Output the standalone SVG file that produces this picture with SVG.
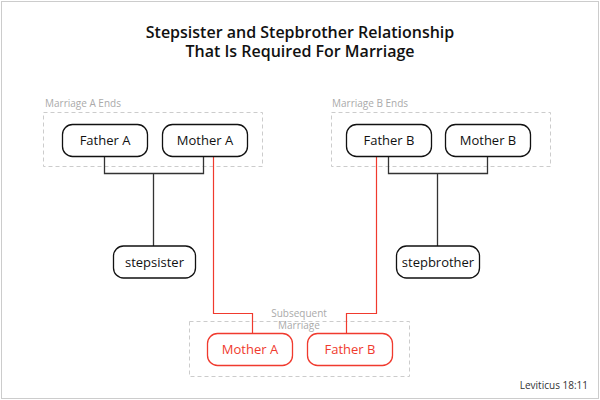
<svg xmlns="http://www.w3.org/2000/svg" width="600" height="400" viewBox="0 0 600 400">
<style>
text{font-family:"Open Sans","Noto Sans","Liberation Sans",sans-serif}
.title{font-size:16px;font-weight:600;fill:#111;text-anchor:middle}
.grp{fill:none;stroke:#ccc;stroke-width:1;stroke-dasharray:4,3}
.glab{font-size:10px;fill:#aaa}
.node rect{fill:#fff;stroke:#111;stroke-width:1.3}
.node text{font-size:13px;fill:#111;text-anchor:middle}
.red rect{stroke:#f03a2e}
.red text{fill:#f03a2e}
.conn{fill:none;stroke:#333;stroke-width:1.3}
.rconn{fill:none;stroke:#f03a2e;stroke-width:1.2}
.ref{font-size:10px;fill:#333;text-anchor:end}
</style>
<rect x="1.5" y="1.5" width="597" height="397" fill="#fff" stroke="#ccc"/>
<text class="title" x="300" y="38">Stepsister and Stepbrother Relationship</text>
<text class="title" x="300" y="57">That Is Required For Marriage</text>

<g id="groupA">
<rect class="grp" x="43.5" y="112.5" width="219" height="54"/>
<text class="glab" x="45" y="107">Marriage A Ends</text>
</g>
<g id="groupB">
<rect class="grp" x="331.5" y="112.5" width="219" height="54"/>
<text class="glab" x="332" y="107">Marriage B Ends</text>
</g>
<g id="groupC">
<rect class="grp" x="189.5" y="321.5" width="220" height="55"/>
<text class="glab" x="299" y="317" text-anchor="middle">Subsequent</text>
<text class="glab" x="299" y="329" text-anchor="middle">Marriage</text>
</g>

<g id="connectors">
<path class="conn" d="M104.5 157V173.5H203.5V157M153.5 173.5V246"/>
<path class="conn" d="M388.5 157V173.5H487.5V157M437.5 173.5V246"/>
<path class="rconn" d="M213.5 157V313.5H252.5V333"/>
<path class="rconn" d="M376.5 157V313.5H346.5V333"/>
</g>

<g id="fatherA" class="node"><rect x="62.5" y="124.5" width="85" height="32" rx="10"/><text x="105" y="145">Father A</text></g>
<g id="motherA" class="node"><rect x="162.5" y="124.5" width="85" height="32" rx="10"/><text x="205" y="145">Mother A</text></g>
<g id="fatherB" class="node"><rect x="346.5" y="124.5" width="85" height="32" rx="10"/><text x="389" y="145">Father B</text></g>
<g id="motherB" class="node"><rect x="445.5" y="124.5" width="85" height="32" rx="10"/><text x="488" y="145">Mother B</text></g>
<g id="stepsister" class="node"><rect x="113.5" y="246" width="82" height="32" rx="10"/><text x="154.5" y="267">stepsister</text></g>
<g id="stepbrother" class="node"><rect x="396.5" y="246" width="83" height="32" rx="10"/><text x="438" y="267">stepbrother</text></g>
<g id="motherA2" class="node red"><rect x="207.5" y="333.5" width="85" height="32" rx="10"/><text x="250" y="354">Mother A</text></g>
<g id="fatherB2" class="node red"><rect x="307.5" y="333.5" width="85" height="32" rx="10"/><text x="350" y="354">Father B</text></g>

<text class="ref" x="588" y="389">Leviticus 18:11</text>
</svg>
